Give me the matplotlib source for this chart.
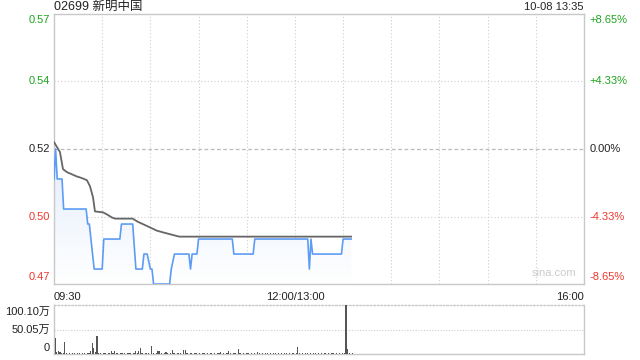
import numpy as np
import matplotlib
matplotlib.use("Agg")
import matplotlib.pyplot as plt
from matplotlib.transforms import blended_transform_factory
from matplotlib.colors import LinearSegmentedColormap

plt.rcParams['font.family'] = ['Liberation Sans', 'Noto Sans CJK SC', 'DejaVu Sans']

title = "02699 新明中国"
stamp = "10-08 13:35"
prev_close = 0.52
pct_levels = [8.65, 4.33, 0.00, -4.33, -8.65]
price_labels = ["0.57", "0.54", "0.52", "0.50", "0.47"]
pct_labels = ["+8.65%", "+4.33%", "0.00%", "-4.33%", "-8.65%"]
x_labels = ["09:30", "12:00/13:00", "16:00"]
vol_labels = ["100.10万", "50.05万", "0"]
vol_max = 100.10

# price change points (minute index from 09:30, 12:00 and 13:00 share minute 150)
price_t = [0, 1, 2, 5, 6, 20, 21, 22, 25, 30, 31, 41, 42, 49, 51, 55, 56, 58, 60, 61,
           62, 72, 73, 75, 84, 85, 86, 89, 90, 111, 112, 124, 125, 158, 159, 160, 161,
           179, 180, 185]
price_v = [0.51, 0.52, 0.51, 0.51, 0.50, 0.50, 0.495, 0.495, 0.48, 0.48, 0.49, 0.49,
           0.495, 0.495, 0.48, 0.48, 0.485, 0.485, 0.48, 0.48, 0.475, 0.475, 0.48, 0.485,
           0.485, 0.48, 0.485, 0.485, 0.49, 0.49, 0.485, 0.485, 0.49, 0.49, 0.48, 0.49,
           0.485, 0.485, 0.49, 0.49]

avg_t = [0, 3.7, 5.6, 8, 11, 14, 17.4, 20.5, 22.4, 24.3, 25.5, 30.5, 33, 36, 38, 49,
         52, 58.5, 64, 68, 78, 185]
avg_v = [0.5223, 0.519, 0.5133, 0.5123, 0.5116, 0.5109, 0.5103, 0.5096, 0.5076, 0.5039,
         0.4992, 0.4989, 0.4982, 0.4972, 0.4968, 0.4968, 0.4958, 0.4942, 0.4928, 0.4922,
         0.4908, 0.4908]

# volume per minute, in 万
volume = [33, 4, 6, 4, 2, 3, 24, 2, 1, 2,
          1, 2, 3, 1, 2, 2, 1, 3, 2, 1,
          2, 3, 6, 22, 12, 4, 37, 3, 2, 1,
          2, 2, 1, 3, 2, 6, 2, 6, 3, 2,
          1, 2, 2, 3, 1, 2, 3, 2, 1, 2,
          6, 3, 6, 12, 2, 1, 2, 3, 2, 1,
          16, 2, 1, 2, 6, 6, 2, 1, 2, 4,
          2, 1, 3, 8, 2, 1, 3, 2, 2, 1,
          8, 8, 2, 1, 2, 3, 1, 2, 2, 1,
          2, 1, 2, 2, 1, 2, 1, 2, 1, 2,
          1, 2, 2, 5, 1, 2, 1, 2, 6, 2,
          1, 2, 2, 1, 10, 2, 1, 2, 1, 2,
          2, 1, 2, 1, 2, 1, 4, 2, 1, 2,
          1, 2, 2, 1, 2, 1, 2, 2, 1, 2,
          1, 2, 1, 2, 2, 1, 2, 1, 2, 1,
          2, 14, 2, 1, 2, 1, 2, 2, 1, 2,
          1, 2, 2, 1, 2, 1, 2, 1, 2, 1,
          2, 1, 2, 2, 1, 2, 1, 2, 1, 2,
          2, 100.1, 10, 2, 1, 2]
vol_t = np.arange(len(volume))

TOTAL = 330
GREEN = '#1ea31e'
RED = '#f0372d'
GRID = '#cfcfcf'
SPINE = '#c8c8c8'

fig = plt.figure(figsize=(6.4, 3.6), dpi=100)
ax = fig.add_axes([54/640, 1-284/360, 530/640, 270/360])
axv = fig.add_axes([54/640, 1-354/360, 530/640, 49/360])

levels = [prev_close * (1 + p/100) for p in pct_levels]
ymin, ymax = levels[-1], levels[0]
ax.set_xlim(0, TOTAL)
ax.set_ylim(ymin, ymax)

# grid
for xv in range(30, TOTAL, 30):
    ax.axvline(xv, color=GRID, lw=0.8, ls=(0, (1, 2)), zorder=0)
for lv, p in zip(levels[1:-1], pct_levels[1:-1]):
    if p == 0:
        ax.axhline(lv, color='#bbbbbb', lw=0.9, ls=(0, (3, 2)), zorder=0)
    else:
        ax.axhline(lv, color=GRID, lw=0.8, ls=(0, (1, 2)), zorder=0)

# gradient fill under price
poly = ax.fill_between(price_t, price_v, ymin, color='none', lw=0)
grad = np.linspace(0, 1, 256).reshape(-1, 1)
cmap = LinearSegmentedColormap.from_list('g', ['#ffffff', '#e3edfc'])
im = ax.imshow(grad, extent=[0, TOTAL, ymin, max(price_v)], origin='lower',
               cmap=cmap, aspect='auto', zorder=1)
im.set_clip_path(poly.get_paths()[0], transform=ax.transData)

ax.plot(price_t, price_v, color='#5d9cf5', lw=1.2, zorder=3)
ax.plot(avg_t, avg_v, color='#666666', lw=1.3, zorder=4)

ax.set_xticks([])
ax.set_yticks([])
for s in ax.spines.values():
    s.set_color(SPINE)
    s.set_linewidth(1)

# labels
tr = blended_transform_factory(ax.transAxes, ax.transData)
offsets = [-6, 0, 0, 0, 7]
for lv, pl, pc, p, off in zip(levels, price_labels, pct_labels, pct_levels, offsets):
    col = GREEN if p > 0 else (RED if p < 0 else '#222222')
    ax.annotate(pl, xy=(0, lv), xycoords=tr, xytext=(-3, off * 0.72), textcoords='offset points',
                ha='right', va='center', fontsize=8, color=col)
    ax.annotate(pc, xy=(1, lv), xycoords=tr, xytext=(4, off * 0.72), textcoords='offset points',
                ha='left', va='center', fontsize=8, color=col)

fig.text(54/640, 1-7/360, title, ha='left', va='center', fontsize=9, color='#222222')
fig.text(584/640, 1-7/360, stamp, ha='right', va='center', fontsize=8, color='#222222')

xt = [0, 150, TOTAL]
has = ['left', 'center', 'right']
for xv, lab, h in zip(xt, x_labels, has):
    ax.annotate(lab, xy=(xv, 0), xycoords=blended_transform_factory(ax.transData, ax.transAxes),
                xytext=(0, -9), textcoords='offset points', ha=h, va='center', fontsize=8,
                color='#222222')

ax.text(0.985, 0.022, "sina.com", transform=ax.transAxes, ha='right', va='bottom',
        fontsize=8, color='#cccccc')

# volume
axv.set_xlim(0, TOTAL)
axv.set_ylim(0, vol_max)
bars = axv.bar(vol_t, volume, width=0.75, color='#555555', lw=0, zorder=3)
for b in bars:
    b.set_x(b.get_x() + 0.75)
axv.axhline(vol_max / 2, color=GRID, lw=0.8, ls=(0, (1, 1.5)), zorder=0)
axv.set_xticks([])
axv.set_yticks([])
for k, s in axv.spines.items():
    s.set_color(SPINE)
    s.set_linewidth(1)
axv.spines['top'].set_linestyle((0, (1, 1.5)))
vtr = blended_transform_factory(axv.transAxes, axv.transData)
for val, lab, off in zip([vol_max, vol_max / 2, 0], vol_labels, [-7, 0, 6]):
    axv.annotate(lab, xy=(0, val), xycoords=vtr, xytext=(-3, off * 0.72), textcoords='offset points',
                 ha='right', va='center', fontsize=8, color='#222222')

fig.savefig('out.png', dpi=100)
